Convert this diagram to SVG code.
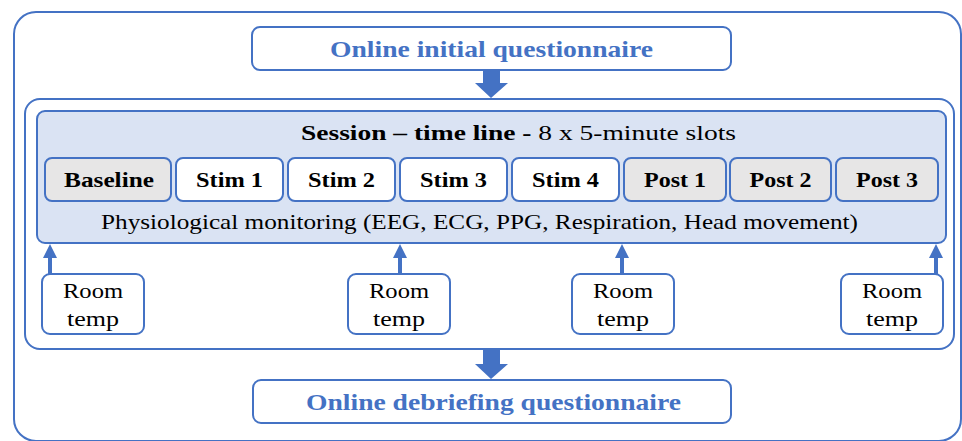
<svg xmlns="http://www.w3.org/2000/svg" width="962" height="441" viewBox="0 0 962 441">
  <defs>
    <style>
      .frame { fill: #ffffff; stroke: #4472c4; stroke-width: 2; }
      .panel { fill: #dae3f3; stroke: #4472c4; stroke-width: 2; }
      .slot { fill: #ffffff; stroke: #4472c4; stroke-width: 2; }
      .slot.rest { fill: #e7e6e6; }
      .q { font-family: "Liberation Serif", "DejaVu Serif", serif; font-weight: bold; font-size: 24px; fill: #4472c4; text-anchor: middle; }
      .slot-label { font-family: "Liberation Serif", "DejaVu Serif", serif; font-weight: bold; font-size: 21px; fill: #000; text-anchor: middle; }
      .body { font-family: "Liberation Serif", "DejaVu Serif", serif; font-size: 21px; fill: #000; text-anchor: middle; }
      .block { fill: #4472c4; }
    </style>
  </defs>

  <!-- outer frame -->
  <rect class="frame" x="14" y="12" width="947" height="429" rx="22"/>

  <g id="initial-questionnaire">
    <rect class="frame" x="252" y="27" width="479" height="43" rx="8"/>
    <text class="q" x="491.5" y="57" textLength="323" lengthAdjust="spacingAndGlyphs">Online initial questionnaire</text>
  </g>

  <g id="session">
    <rect class="frame" x="25" y="99" width="929" height="250" rx="15"/>
    <rect class="panel" x="37" y="111" width="909" height="132" rx="8"/>
    <text class="body" x="518.5" y="140" textLength="435" lengthAdjust="spacingAndGlyphs"><tspan font-weight="bold">Session – time line - </tspan>8 x 5-minute slots</text>
    <text class="body" x="479.5" y="229" textLength="757" lengthAdjust="spacingAndGlyphs">Physiological monitoring (EEG, ECG, PPG, Respiration, Head movement)</text>
  </g>

  <g id="slot-baseline">
    <rect class="slot rest" x="45" y="158" width="126" height="43" rx="7"/>
    <text class="slot-label" x="109" y="187" textLength="90" lengthAdjust="spacingAndGlyphs">Baseline</text>
  </g>
  <g id="slot-stim1">
    <rect class="slot" x="176" y="158" width="107" height="43" rx="7"/>
    <text class="slot-label" x="229.5" y="187" textLength="67" lengthAdjust="spacingAndGlyphs">Stim 1</text>
  </g>
  <g id="slot-stim2">
    <rect class="slot" x="288" y="158" width="107" height="43" rx="7"/>
    <text class="slot-label" x="341.5" y="187" textLength="67" lengthAdjust="spacingAndGlyphs">Stim 2</text>
  </g>
  <g id="slot-stim3">
    <rect class="slot" x="400" y="158" width="107" height="43" rx="7"/>
    <text class="slot-label" x="453.5" y="187" textLength="67" lengthAdjust="spacingAndGlyphs">Stim 3</text>
  </g>
  <g id="slot-stim4">
    <rect class="slot" x="512" y="158" width="107" height="43" rx="7"/>
    <text class="slot-label" x="565.5" y="187" textLength="67" lengthAdjust="spacingAndGlyphs">Stim 4</text>
  </g>
  <g id="slot-post1">
    <rect class="slot rest" x="624" y="158" width="102" height="43" rx="7"/>
    <text class="slot-label" x="675" y="187" textLength="62" lengthAdjust="spacingAndGlyphs">Post 1</text>
  </g>
  <g id="slot-post2">
    <rect class="slot rest" x="730" y="158" width="101" height="43" rx="7"/>
    <text class="slot-label" x="780.5" y="187" textLength="62" lengthAdjust="spacingAndGlyphs">Post 2</text>
  </g>
  <g id="slot-post3">
    <rect class="slot rest" x="836" y="158" width="102" height="43" rx="7"/>
    <text class="slot-label" x="887" y="187" textLength="62" lengthAdjust="spacingAndGlyphs">Post 3</text>
  </g>

  <g id="room-temp-1">
    <rect class="slot" x="42" y="274" width="102" height="60" rx="8"/>
    <text class="body" x="93" y="298" textLength="60" lengthAdjust="spacingAndGlyphs">Room</text>
    <text class="body" x="93" y="326" textLength="52" lengthAdjust="spacingAndGlyphs">temp</text>
  </g>
  <g id="room-temp-2">
    <rect class="slot" x="348" y="274" width="102" height="60" rx="8"/>
    <text class="body" x="399" y="298" textLength="60" lengthAdjust="spacingAndGlyphs">Room</text>
    <text class="body" x="399" y="326" textLength="52" lengthAdjust="spacingAndGlyphs">temp</text>
  </g>
  <g id="room-temp-3">
    <rect class="slot" x="572" y="274" width="102" height="60" rx="8"/>
    <text class="body" x="623" y="298" textLength="60" lengthAdjust="spacingAndGlyphs">Room</text>
    <text class="body" x="623" y="326" textLength="52" lengthAdjust="spacingAndGlyphs">temp</text>
  </g>
  <g id="room-temp-4">
    <rect class="slot" x="841" y="274" width="102" height="60" rx="8"/>
    <text class="body" x="892" y="298" textLength="60" lengthAdjust="spacingAndGlyphs">Room</text>
    <text class="body" x="892" y="326" textLength="52" lengthAdjust="spacingAndGlyphs">temp</text>
  </g>

  <g id="debriefing-questionnaire">
    <rect class="frame" x="253" y="380" width="478" height="43" rx="8"/>
    <text class="q" x="493.5" y="410" textLength="375" lengthAdjust="spacingAndGlyphs">Online debriefing questionnaire</text>
  </g>

  <g id="connectors">
    <!-- block arrows between stages -->
    <polygon class="block" points="483,70 500,70 500,83 508,83 491,98 475,83 483,83"/>
    <polygon class="block" points="483,349 500,349 500,364 508,364 491,379 475,364 483,364"/>
    <!-- room temperature readings feeding the timeline -->
    <polygon class="block" points="48,274 52,274 52,258 57,258 50,244 43,258 48,258"/>
    <polygon class="block" points="398,274 402,274 402,258 407,258 400,244 393,258 398,258"/>
    <polygon class="block" points="620,274 624,274 624,258 629,258 622,244 615,258 620,258"/>
    <polygon class="block" points="934,274 938,274 938,258 943,258 936,244 929,258 934,258"/>
  </g>
</svg>
